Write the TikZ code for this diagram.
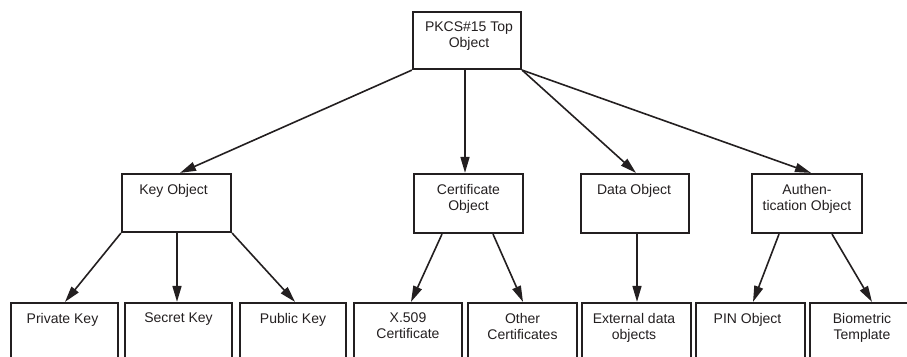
\documentclass[tikz,border=0pt]{standalone}
\usepackage{fontspec}
\setmainfont{Liberation Sans}
\usetikzlibrary{arrows.meta}
\definecolor{ink}{HTML}{231F20}
\tikzset{
  box/.style={draw=ink, line width=2.2pt, inner sep=0pt, minimum width=#1, minimum height=58pt},
  box/.default=108pt,
  lowbox/.style={box=108pt, minimum height=62pt},
  lbl/.style={anchor=north, inner sep=0pt, align=center, text=ink, font=\fontsize{14pt}{16pt}\selectfont},
  conn/.style={draw=ink, line width=1.6pt, -{Triangle[length=16pt,width=9pt]}}
}
\begin{document}
\begin{tikzpicture}[x=1pt,y=-1pt]
\useasboundingbox (0,0) rectangle (907,356);
\clip (0,0) rectangle (907,356);
% boxes
\node[box=108pt, minimum height=57pt] (top) at (467,40.5) {};
\node[box=109pt] (key) at (176.5,203) {};
\node[box=109pt, minimum height=59pt] (cert) at (468.5,203.5) {};
\node[box=108pt, minimum height=59pt] (data) at (635,203.5) {};
\node[box=110pt, minimum height=59pt] (auth) at (807,203.5) {};
\node[lowbox, minimum width=107pt] (priv) at (64.5,334) {};
\node[lowbox, minimum width=107pt] (secr) at (178.5,334) {};
\node[lowbox, minimum width=106pt] (publ) at (293,334) {};
\node[lowbox] (x509) at (408,334) {};
\node[lowbox, minimum width=109pt] (othr) at (522.5,334) {};
\node[lowbox, minimum width=109pt] (extn) at (636.5,334) {};
\node[lowbox, minimum width=109pt] (pin) at (750.5,334) {};
\node[lowbox] (bio) at (864,334) {};
% texts
\node[lbl] (ttop) at ([yshift=-11pt,xshift=2pt]top.north) {PKCS\#15 Top\\Object};
\node[lbl] (tkey) at ([yshift=-11pt,xshift=-3pt]key.north) {Key Object};
\node[lbl] (tcert) at ([yshift=-11pt]cert.north) {Certificate\\Object};
\node[lbl] (tdata) at ([yshift=-11pt,xshift=-1pt]data.north) {Data Object};
\node[lbl] (tauth) at ([yshift=-11pt]auth.north) {Authen-\\tication Object};
\node[lbl] (tpriv) at ([yshift=-11pt,xshift=-2pt]priv.north) {Private Key};
\node[lbl] (tsecr) at ([yshift=-11pt]secr.north) {Secret Key};
\node[lbl] (tpubl) at ([yshift=-11pt]publ.north) {Public Key};
\node[lbl] (tx509) at ([yshift=-11pt]x509.north) {X.509\\Certificate};
\node[lbl] (tothr) at ([yshift=-11pt]othr.north) {Other\\Certificates};
\node[lbl] (textn) at ([yshift=-11pt,xshift=-2.5pt]extn.north) {External data\\objects};
\node[lbl] (tpin) at ([yshift=-11pt,xshift=-3pt]pin.north) {PIN Object};
\node[lbl] (tbio) at ([yshift=-11pt,xshift=-2pt]bio.north) {Biometric\\Template};
% connectors
\draw[conn] (top.south west) -- ([xshift=3.5pt]key.north);
\draw[conn] ([xshift=-2pt]top.south) -- ([xshift=-3.5pt]cert.north);
\draw[conn] (top.south east) -- ([xshift=1pt]data.north);
\draw[conn] (top.south east) -- ([xshift=4pt]auth.north);
\draw[conn] (key.south west) -- ([xshift=0.5pt]priv.north);
\draw[conn] ([xshift=0.5pt]key.south) -- ([xshift=-1.5pt]secr.north);
\draw[conn] (key.south east) -- ([xshift=2pt]publ.north);
\draw[conn] ([xshift=-26.5pt]cert.south) -- ([xshift=3pt]x509.north);
\draw[conn] ([xshift=24.5pt]cert.south) -- ([xshift=0.5pt]othr.north);
\draw[conn] ([xshift=2pt]data.south) -- ([xshift=0.5pt]extn.north);
\draw[conn] ([xshift=-28pt]auth.south) -- ([xshift=2.5pt]pin.north);
\draw[conn] ([xshift=25pt]auth.south) -- ([xshift=8pt]bio.north);
\end{tikzpicture}
\end{document}
